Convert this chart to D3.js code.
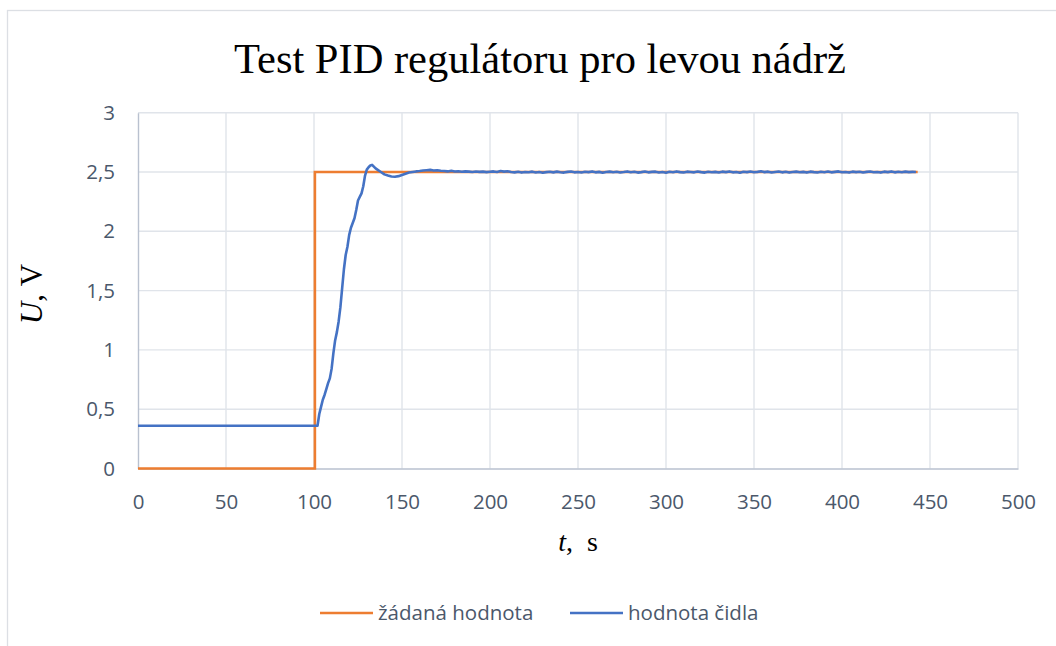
<!DOCTYPE html>
<html>
<head>
<meta charset="utf-8">
<script src="https://cdn.jsdelivr.net/npm/d3@7"></script>
<style>
  body { margin: 0; background: #fff; }
  svg { display: block; }
</style>
</head>
<body>
<div id="chart"></div>
<script>
var width = 1056;
var height = 646;

// setpoint (žádaná hodnota)
var setTime = [0, 100.5, 100.5, 443];
var setValue = [0, 0, 2.5, 2.5];

// sensor reading (hodnota čidla)
var sensorTime = [
    0, 102, 103, 104, 105, 106, 107, 108, 109, 110,
    111, 112, 113, 114, 115, 116, 117, 118, 119, 120,
    121, 122, 123, 124, 125, 126, 127, 128, 129, 130,
    131, 132, 133, 134, 135, 136, 138, 140, 142, 144,
    146, 148, 150, 152, 154, 156, 158, 160, 162, 164,
    166, 168, 170, 172,
    174, 176, 178, 180, 182, 184, 186, 188, 190, 192,
    194, 196, 198, 200, 202, 204, 206, 208, 210, 212,
    214, 216, 218, 220, 222, 224, 226, 228, 230, 232,
    234, 236, 238, 240, 242, 244, 246, 248, 250, 252,
    254, 256, 258, 260, 262, 264, 266, 268, 270, 272,
    274, 276, 278, 280, 282, 284, 286, 288, 290, 292,
    294, 296, 298, 300, 302, 304, 306, 308, 310, 312,
    314, 316, 318, 320, 322, 324, 326, 328, 330, 332,
    334, 336, 338, 340, 342, 344, 346, 348, 350, 352,
    354, 356, 358, 360, 362, 364, 366, 368, 370, 372,
    374, 376, 378, 380, 382, 384, 386, 388, 390, 392,
    394, 396, 398, 400, 402, 404, 406, 408, 410, 412,
    414, 416, 418, 420, 422, 424, 426, 428, 430, 432,
    434, 436, 438, 440, 442
];
var sensorValue = [
    0.36, 0.36, 0.46, 0.52, 0.58, 0.62, 0.67, 0.72, 0.76, 0.84,
    0.97, 1.08, 1.15, 1.24, 1.36, 1.52, 1.68, 1.80, 1.87, 1.97,
    2.03, 2.07, 2.11, 2.18, 2.26, 2.29, 2.32, 2.38, 2.47, 2.52,
    2.54, 2.555, 2.56, 2.545, 2.53, 2.52, 2.50, 2.48, 2.47, 2.462,
    2.46, 2.465, 2.475, 2.485, 2.495, 2.50, 2.505, 2.508, 2.512, 2.515,
    2.518, 2.512, 2.515, 2.51,
    2.508, 2.505, 2.51, 2.504, 2.506, 2.502, 2.505, 2.503, 2.50, 2.504,
    2.501, 2.503, 2.499, 2.502, 2.505, 2.50, 2.508, 2.503, 2.506, 2.50,
    2.497, 2.502, 2.495, 2.50, 2.498, 2.503, 2.496, 2.50, 2.494, 2.499,
    2.502, 2.497, 2.503, 2.498, 2.495, 2.501, 2.504, 2.497, 2.50, 2.496,
    2.502, 2.499, 2.505, 2.497, 2.501, 2.494, 2.50, 2.503, 2.498, 2.502,
    2.496, 2.50, 2.505, 2.498, 2.502, 2.495, 2.499, 2.504, 2.497, 2.501,
    2.503, 2.496, 2.50, 2.494, 2.502, 2.498, 2.505, 2.499, 2.496, 2.503,
    2.50, 2.497, 2.504, 2.499, 2.495, 2.502, 2.498, 2.501, 2.496, 2.503,
    2.499, 2.505, 2.497, 2.50, 2.494, 2.502, 2.499, 2.504, 2.498, 2.501,
    2.506, 2.499, 2.503, 2.496, 2.50, 2.504, 2.497, 2.502, 2.495, 2.50,
    2.503, 2.498, 2.501, 2.495, 2.503, 2.499, 2.496, 2.502, 2.498, 2.504,
    2.497, 2.501, 2.505, 2.498, 2.50, 2.495, 2.503, 2.499, 2.502, 2.496,
    2.501, 2.504, 2.498, 2.50, 2.495, 2.503, 2.499, 2.505, 2.497, 2.502,
    2.498, 2.503, 2.499, 2.501, 2.50
];

var xTicks = [0, 50, 100, 150, 200, 250, 300, 350, 400, 450, 500];
var yTicks = [0, 0.5, 1, 1.5, 2, 2.5, 3];
var seriesNames = ['žádaná hodnota', 'hodnota čidla'];
var colors = ['#ED7D31', '#4472C4'];

var plot = { left: 138, top: 112.7, right: 1018, bottom: 468.5 };
var textColor = '#4b586b';
var sansFont = '"Open Sans", "Noto Sans", sans-serif';
var serifFont = '"Liberation Serif", "Times New Roman", serif';

var svg = d3.select('#chart')
    .append('svg')
    .attr('width', width)
    .attr('height', height);

// chart area border
svg.append('rect')
    .attr('x', 7.5)
    .attr('y', 10.5)
    .attr('width', 1100)
    .attr('height', 700)
    .attr('fill', '#fff')
    .attr('stroke', '#dcdfe4')
    .attr('stroke-width', 1.3);

var x = d3.scaleLinear().domain([0, 500]).range([plot.left, plot.right]);
var y = d3.scaleLinear().domain([0, 3]).range([plot.bottom, plot.top]);

// gridlines
svg.append('g')
    .selectAll('line')
    .data(yTicks.slice(1))
    .enter()
    .append('line')
    .attr('x1', plot.left)
    .attr('x2', plot.right)
    .attr('y1', (d) => y(d))
    .attr('y2', (d) => y(d))
    .attr('stroke', '#e0e4ea')
    .attr('stroke-width', 1.4);

svg.append('g')
    .selectAll('line')
    .data(xTicks.slice(1))
    .enter()
    .append('line')
    .attr('x1', (d) => x(d))
    .attr('x2', (d) => x(d))
    .attr('y1', plot.top)
    .attr('y2', plot.bottom)
    .attr('stroke', '#e0e4ea')
    .attr('stroke-width', 1.4);

// axes
var xAxis = d3.axisBottom(x).tickValues(xTicks).tickSize(0).tickPadding(26)
    .tickFormat((d) => d);
var yAxis = d3.axisLeft(y).tickValues(yTicks).tickSize(0).tickPadding(23)
    .tickFormat((d) => String(d).replace('.', ','));

var gx = svg.append('g')
    .attr('transform', `translate(0, ${plot.bottom})`)
    .call(xAxis);
var gy = svg.append('g')
    .attr('transform', `translate(${plot.left}, 0)`)
    .call(yAxis);

[gx, gy].forEach((g) => {
    g.select('.domain').attr('stroke', '#b9c1cf').attr('stroke-width', 1.4);
    g.selectAll('text')
        .attr('fill', textColor)
        .style('font-family', sansFont)
        .style('font-size', '20.5px');
});

// series lines
var line = d3.line()
    .x((d) => x(d[0]))
    .y((d) => y(d[1]));

var setPoints = setTime.map((t, i) => [t, setValue[i]]);
var sensorPoints = sensorTime.map((t, i) => [t, sensorValue[i]]);

svg.append('path')
    .datum(setPoints)
    .attr('d', line)
    .attr('fill', 'none')
    .attr('stroke', colors[0])
    .attr('stroke-width', 2.6);

svg.append('path')
    .datum(sensorPoints)
    .attr('d', line)
    .attr('fill', 'none')
    .attr('stroke', colors[1])
    .attr('stroke-width', 2.6)
    .attr('stroke-linejoin', 'round');

// title
svg.append('text')
    .attr('x', 540)
    .attr('y', 73)
    .attr('text-anchor', 'middle')
    .style('font-family', serifFont)
    .style('font-size', '42.5px')
    .attr('fill', '#000')
    .text('Test PID regulátoru pro levou nádrž');

// axis titles
var yTitle = svg.append('text')
    .attr('transform', 'translate(42, 294) rotate(-90)')
    .attr('text-anchor', 'middle')
    .style('font-family', serifFont)
    .style('font-size', '31px')
    .attr('fill', '#000');
yTitle.append('tspan').style('font-style', 'italic').text('U');
yTitle.append('tspan').text(',\u00a0V');

var xTitle = svg.append('text')
    .attr('x', 578)
    .attr('y', 551)
    .attr('text-anchor', 'middle')
    .style('font-family', serifFont)
    .style('font-size', '28px')
    .attr('fill', '#000');
xTitle.append('tspan').style('font-style', 'italic').text('t');
xTitle.append('tspan').text(',\u00a0\u00a0s');

// legend
var legendX = [320, 570];
var legend = svg.append('g')
    .selectAll('g')
    .data(seriesNames)
    .enter()
    .append('g')
    .attr('transform', (d, i) => `translate(${legendX[i]}, 613)`);

legend.append('line')
    .attr('x1', 0)
    .attr('x2', 53)
    .attr('stroke', (d, i) => colors[i])
    .attr('stroke-width', 2.6);

legend.append('text')
    .attr('x', 58)
    .attr('dy', '0.35em')
    .attr('fill', textColor)
    .style('font-family', sansFont)
    .style('font-size', '20.5px')
    .text((d) => d);
</script>
</body>
</html>
